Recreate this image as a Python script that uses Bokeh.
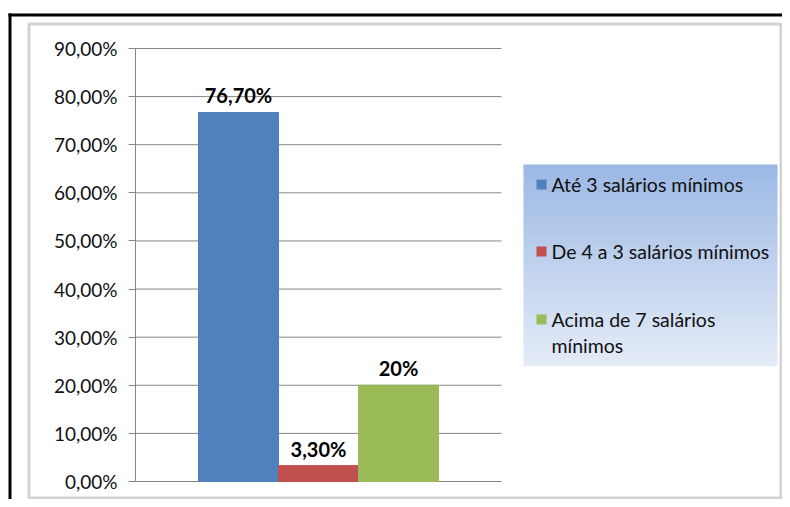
from bokeh.plotting import figure
from bokeh.models import Range1d, FixedTicker, BoxAnnotation, Label, LinearAxis
from bokeh.core.properties import value
from bokeh.embed import file_html
from bokeh.resources import INLINE

# ---- data ----
categories = ["Até 3 salários mínimos", "De 4 a 3 salários mínimos", "Acima de 7 salários mínimos"]
legend_lines = [["Até 3 salários mínimos"], ["De 4 a 3 salários mínimos"], ["Acima de 7 salários", "mínimos"]]
values = [76.7, 3.3, 20.0]
value_labels = ["76,70%", "3,30%", "20%"]
colors = ["#4F81BD", "#C0504D", "#9BBB59"]
y_ticks = [0, 10, 20, 30, 40, 50, 60, 70, 80, 90]
y_tick_labels = ["0,00%", "10,00%", "20,00%", "30,00%", "40,00%", "50,00%",
                 "60,00%", "70,00%", "80,00%", "90,00%"]

FONT = "Lato"
W, H = 782, 499
# plot area (pixels on the canvas)
PX0, PX1, PY0, PY1 = 135, 501, 48, 481
YMAX = 90.0
KY = (PY1 - PY0) / YMAX          # px per percent
BAR_PX = 80.0                    # px per bar slot
XC = (PX0 + PX1) / 2             # px of centre bar

p = figure(width=W, height=H, output_backend="svg", toolbar_location=None,
           x_range=Range1d((0 - XC) / BAR_PX, (W - XC) / BAR_PX),
           y_range=Range1d(-(H - PY1) / KY, YMAX + PY0 / KY),
           x_axis_location=None, y_axis_location=None,
           min_border=0, min_border_left=0, min_border_right=0,
           min_border_top=0, min_border_bottom=0)
p.outline_line_color = None
p.xgrid.grid_line_color = None
p.ygrid.grid_line_color = None

ax_x = (PX0 - XC) / BAR_PX
ax_x1 = (PX1 - XC) / BAR_PX

# horizontal grid lines between the axis and the right edge of the plot area
p.segment(x0=[ax_x] * len(y_ticks), x1=[ax_x1] * len(y_ticks), y0=y_ticks, y1=y_ticks,
          line_color="#868686", line_width=1)

ax = LinearAxis(fixed_location=ax_x, bounds=(0, YMAX))
ax.ticker = FixedTicker(ticks=y_ticks)
ax.major_label_overrides = {t: l for t, l in zip(y_ticks, y_tick_labels)}
ax.axis_line_color = "#868686"
ax.major_tick_line_color = "#868686"
ax.major_tick_out = 7
ax.major_tick_in = 0
ax.minor_tick_line_color = None
ax.major_label_standoff = 11
ax.major_label_text_font = FONT
ax.major_label_text_font_size = "19px"
ax.major_label_text_color = "#111111"
p.add_layout(ax, "left")

xs = [i - (len(values) - 1) / 2 for i in range(len(values))]
p.vbar(x=xs, top=values, bottom=0, width=1.0, fill_color=colors, line_color=colors)
p.text(x=xs, y=values, text=value_labels, text_align="center", text_baseline="alphabetic",
       y_offset=-17, text_font=value(FONT), text_font_style="bold",
       text_font_size="20px", text_color="black")

# ---- decorations in canvas pixels (frame == canvas) ----
def sx(xp):
    return xp

def sy(yp):
    return H - yp

def box(x0, x1, y0, y1, **kw):
    p.add_layout(BoxAnnotation(left=sx(x0), right=sx(x1), top=sy(y0), bottom=sy(y1),
                               left_units="screen", right_units="screen",
                               top_units="screen", bottom_units="screen", **kw))

# outer black frame lines
box(8, W, 13, 16, fill_color="black", fill_alpha=1, line_color=None)
box(8, 11, 13, H, fill_color="black", fill_alpha=1, line_color=None)
# inner gray double border
box(28.5, W - 1.5, 23.5, H - 1.5, fill_alpha=0, line_color="#6e6e6e", line_width=3)
box(28.5, W - 1.5, 23.5, H - 1.5, fill_alpha=0, line_color="#d0d0d0", line_width=1)

# legend gradient background
LX0, LX1, LY0, LY1 = 523, 777, 164, 365
c0 = (155, 184, 228)
c1 = (228, 235, 247)
N = 60
for i in range(N):
    t = i / (N - 1)
    c = tuple(int(round(a + (b - a) * t)) for a, b in zip(c0, c1))
    ya = LY0 + (LY1 - LY0) * i / N
    yb = LY0 + (LY1 - LY0) * (i + 1) / N + 0.6
    box(LX0, LX1, ya, yb, fill_color="#%02x%02x%02x" % c, fill_alpha=1, line_color=None)

item_y = [184, 251, 319]
for lines, col, yc in zip(legend_lines, colors, item_y):
    box(536, 546, yc - 5, yc + 5, fill_color=col, fill_alpha=1, line_color=None)
    for k, ln in enumerate(lines):
        p.add_layout(Label(x=sx(551), y=sy(yc + 26 * k), x_units="screen", y_units="screen",
                           text=ln, text_font=FONT, text_font_size="19.5px",
                           text_color="#111111", text_align="left", text_baseline="middle"))

open("out.html", "w").write(file_html(p, INLINE))
